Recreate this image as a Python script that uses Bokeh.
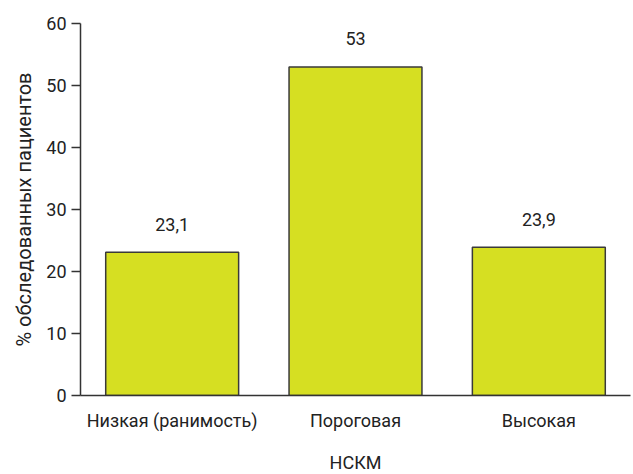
from bokeh.plotting import figure
from bokeh.models import ColumnDataSource, FactorRange, Range1d, LabelSet, FixedTicker
from bokeh.core.properties import value
from bokeh.embed import file_html
from bokeh.resources import INLINE

categories = ["Низкая (ранимость)", "Пороговая", "Высокая"]
values = [23.1, 53, 23.9]
value_labels = ["23,1", "53", "23,9"]
y_ticks = [0, 10, 20, 30, 40, 50, 60]

FONT = "Roboto"
TXT = "#222222"
AX = "#333333"

src = ColumnDataSource(dict(cat=categories, val=values, lab=value_labels))

p = figure(width=633, height=474, x_range=FactorRange(*categories, range_padding=0),
           y_range=Range1d(0, 60), output_backend="svg", toolbar_location=None,
           min_border_left=80, min_border_right=3, min_border_top=23, min_border_bottom=76)
p.frame_width = 550
p.frame_height = 372

p.vbar(x="cat", top="val", width=0.725, source=src, fill_color="#d6df22",
       line_color="#3a3a3a", line_width=1.5)

labels = LabelSet(x="cat", y="val", text="lab", source=src, y_offset=28,
                  text_align="center", text_baseline="middle",
                  text_font=value(FONT), text_font_size="18px", text_color=TXT)
p.add_layout(labels)

p.outline_line_color = None
p.grid.grid_line_color = None
p.background_fill_color = "white"
p.border_fill_color = "white"

p.axis.axis_line_color = AX
p.axis.axis_line_width = 1.5
p.axis.major_label_text_font = FONT
p.axis.major_label_text_font_size = "18px"
p.axis.major_label_text_color = TXT
p.axis.axis_label_text_font = FONT
p.axis.axis_label_text_font_size = "18px"
p.axis.axis_label_text_font_style = "normal"
p.axis.axis_label_text_color = TXT

yax = p.yaxis[0]
yax.ticker = FixedTicker(ticks=y_ticks, minor_ticks=[])
yax.axis_label = "% обследованных пациентов"
yax.axis_label_text_font_size = "20px"
yax.major_tick_in = 0
yax.major_tick_out = 9
yax.major_tick_line_color = AX
yax.major_tick_line_width = 1.5
yax.minor_tick_line_color = None
yax.major_label_standoff = 5
yax.axis_label_standoff = 7

xax = p.xaxis[0]
xax.axis_label = "НСКМ"
xax.major_tick_line_color = None
xax.major_tick_out = 0
xax.major_tick_in = 0
xax.major_label_standoff = 14
xax.axis_label_standoff = 18

open("out.html", "w").write(file_html(p, INLINE))
